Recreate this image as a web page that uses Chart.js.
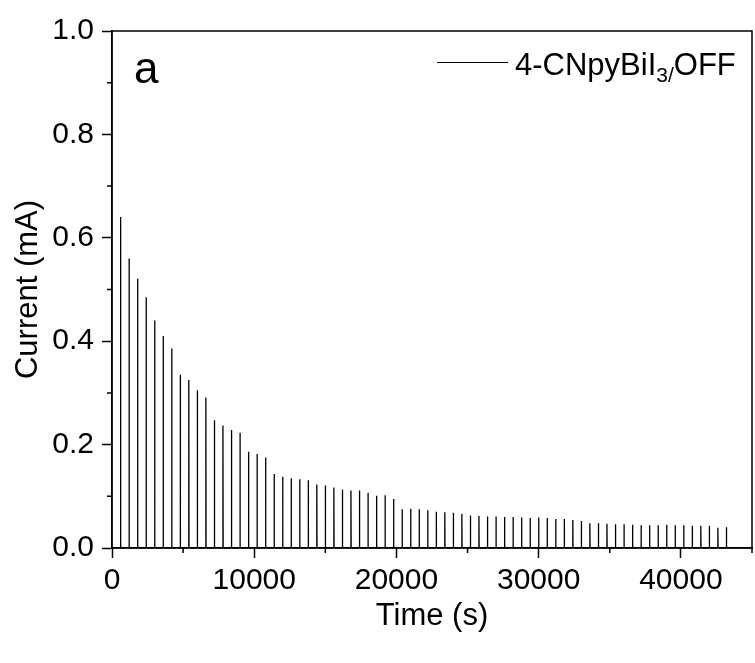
<!DOCTYPE html>
<html>
<head>
<meta charset="utf-8">
<script src="https://cdn.jsdelivr.net/npm/chart.js@4.4.0/dist/chart.umd.min.js"></script>
<style>
  body { margin: 0; background: #fff; }
  canvas { display: block; }
</style>
</head>
<body>
<canvas id="chart" width="755" height="663"></canvas>
<script>
// spike times (s)
const times = [600, 1200, 1800, 2400, 3000, 3600, 4200, 4800, 5400, 6000,
  6600, 7200, 7800, 8400, 9000, 9600, 10200, 10800, 11400, 12000,
  12600, 13200, 13800, 14400, 15000, 15600, 16200, 16800, 17400, 18000,
  18600, 19200, 19800, 20400, 21000, 21600, 22200, 22800, 23400, 24000,
  24600, 25200, 25800, 26400, 27000, 27600, 28200, 28800, 29400, 30000,
  30600, 31200, 31800, 32400, 33000, 33600, 34200, 34800, 35400, 36000,
  36600, 37200, 37800, 38400, 39000, 39600, 40200, 40800, 41400, 42000,
  42600, 43200];
// peak current (mA)
const peaks = [0.640, 0.560, 0.521, 0.485, 0.440, 0.410, 0.386, 0.335, 0.325, 0.305,
  0.291, 0.247, 0.237, 0.228, 0.223, 0.186, 0.182, 0.175, 0.143, 0.138,
  0.135, 0.133, 0.131, 0.123, 0.121, 0.117, 0.113, 0.111, 0.111, 0.107,
  0.101, 0.102, 0.095, 0.075, 0.076, 0.075, 0.073, 0.070, 0.069, 0.068,
  0.066, 0.063, 0.062, 0.061, 0.061, 0.060, 0.060, 0.059, 0.058, 0.059,
  0.058, 0.056, 0.056, 0.054, 0.052, 0.048, 0.048, 0.047, 0.046, 0.046,
  0.045, 0.044, 0.044, 0.044, 0.045, 0.044, 0.044, 0.043, 0.043, 0.043,
  0.039, 0.040];
const xTicks = [0, 10000, 20000, 30000, 40000];
const yTicks = [0, 0.2, 0.4, 0.6, 0.8, 1.0];
const xMinorTicks = [5000, 15000, 25000, 35000, 45000];
const yMinorTicks = [0.1, 0.3, 0.5, 0.7, 0.9];

const FONT = "'Liberation Sans', Arial, sans-serif";

// baseline -> peak -> back to baseline for every spike
let points = [{x: 0, y: 0}];
for (let i = 0; i < times.length; i++) {
  points.push({x: times[i], y: 0});
  points.push({x: times[i], y: peaks[i]});
  points.push({x: times[i] + 15, y: 0});
}

const framePlugin = {
  id: "frame",
  afterDraw(chart) {
    const ctx = chart.ctx;
    const a = chart.chartArea;
    const xs = chart.scales.x, ys = chart.scales.y;
    ctx.save();
    ctx.strokeStyle = "#000";
    ctx.lineWidth = 1.5;
    ctx.strokeRect(a.left, a.top, a.right - a.left, a.bottom - a.top);
    ctx.beginPath();
    xMinorTicks.forEach(v => {
      const px = xs.getPixelForValue(v);
      ctx.moveTo(px, a.bottom);
      ctx.lineTo(px, a.bottom + 5);
    });
    yMinorTicks.forEach(v => {
      const py = ys.getPixelForValue(v);
      ctx.moveTo(a.left, py);
      ctx.lineTo(a.left - 5, py);
    });
    ctx.stroke();

    // panel letter
    ctx.fillStyle = "#000";
    ctx.textBaseline = "alphabetic";
    ctx.textAlign = "left";
    ctx.font = "44px " + FONT;
    ctx.fillText("a", 134, 83);

    // legend
    ctx.beginPath();
    ctx.lineWidth = 1;
    ctx.moveTo(437, 62.5);
    ctx.lineTo(508, 62.5);
    ctx.stroke();
    let x = 515;
    ctx.font = "31px " + FONT;
    ctx.fillText("4-CNpyBiI", x, 75);
    x += ctx.measureText("4-CNpyBiI").width;
    ctx.font = "21px " + FONT;
    ctx.fillText("3/", x, 82);
    x += ctx.measureText("3/").width;
    ctx.font = "31px " + FONT;
    ctx.fillText("OFF", x, 75);
    ctx.restore();
  }
};

new Chart(document.getElementById("chart").getContext("2d"), {
  type: "line",
  data: {
    datasets: [{
      label: "4-CNpyBiI3/OFF",
      data: points,
      borderColor: "#000",
      borderWidth: 1.3,
      pointRadius: 0,
      tension: 0,
      fill: false
    }]
  },
  options: {
    responsive: false,
    animation: false,
    layout: { padding: { top: 31, right: 3, left: 0, bottom: 0 } },
    plugins: {
      legend: { display: false },
      tooltip: { enabled: false }
    },
    scales: {
      x: {
        type: "linear",
        min: 0,
        max: 45000,
        afterFit(scale) { scale.height = 115; },
        afterBuildTicks(scale) { scale.ticks = xTicks.map(v => ({value: v})); },
        ticks: {
          autoSkip: false,
          maxRotation: 0,
          padding: 5,
          color: "#000",
          font: { family: FONT, size: 30 },
          callback: v => String(v)
        },
        grid: { drawOnChartArea: false, tickLength: 10, tickWidth: 1.5, tickColor: "#000" },
        border: { display: true, color: "#000", width: 1.5 },
        title: {
          display: true,
          text: "Time (s)",
          color: "#000",
          font: { family: FONT, size: 31, lineHeight: 1 },
          padding: { top: 0, bottom: 31 }
        }
      },
      y: {
        min: 0,
        max: 1,
        afterFit(scale) { scale.width = 112; },
        afterBuildTicks(scale) { scale.ticks = yTicks.map(v => ({value: v})); },
        ticks: {
          autoSkip: false,
          padding: 8,
          color: "#000",
          font: { family: FONT, size: 30 },
          callback: v => v.toFixed(1)
        },
        grid: { drawOnChartArea: false, tickLength: 10, tickWidth: 1.5, tickColor: "#000" },
        border: { display: true, color: "#000", width: 1.5 },
        title: {
          display: true,
          text: "Current (mA)",
          color: "#000",
          font: { family: FONT, size: 31, lineHeight: 1 },
          padding: { top: 13, bottom: 0 }
        }
      }
    }
  },
  plugins: [framePlugin]
});
</script>
</body>
</html>
